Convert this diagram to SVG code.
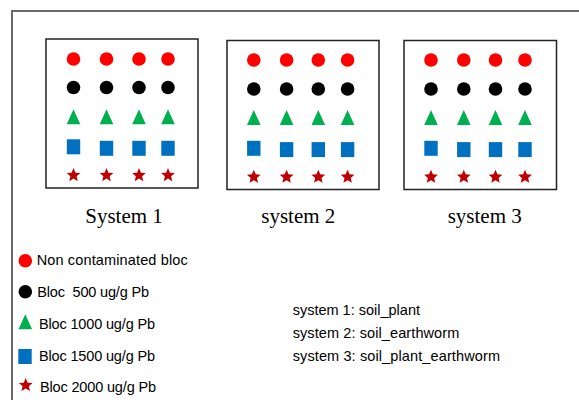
<svg xmlns="http://www.w3.org/2000/svg" xmlns:xlink="http://www.w3.org/1999/xlink" width="579" height="400" viewBox="0 0 579 400">
<style>
.frame{fill:none;stroke:#6a6a6a;stroke-width:2}
.box{fill:#ffffff;stroke:#222222;stroke-width:1.5}
.red{fill:#ff0000}
.blk{fill:#000000}
.grn{fill:#00b050}
.blu{fill:#0070c0}
.str{fill:#c00000}
.title{font-family:"Liberation Serif","Times New Roman",serif;font-size:21px;fill:#000;text-anchor:middle}
.lbl{font-family:"Liberation Sans",Arial,sans-serif;font-size:14.5px;fill:#000}
</style>
<defs>
<circle id="dot" r="6.8"/>
<polygon id="tri" points="0,-7.5 6.8,7.5 -6.8,7.5"/>
<rect id="sq" x="-6.7" y="-7.5" width="13.4" height="15"/>
<polygon id="star" points="0,-7.2 1.940,-2.670 6.848,-2.225 3.138,1.020 4.232,5.825 0,3.3 -4.232,5.825 -3.138,1.020 -6.848,-2.225 -1.940,-2.670"/>
</defs>
<rect width="579" height="400" fill="#ffffff"/>
<path class="frame" d="M12,400 V11 H579"/>

<g id="system1">
<rect class="box" x="46" y="39" width="152" height="149"/>
<g class="red"><use xlink:href="#dot" x="73.5" y="59"/><use xlink:href="#dot" x="106.5" y="59"/><use xlink:href="#dot" x="139" y="59"/><use xlink:href="#dot" x="168" y="59"/></g>
<g class="blk"><use xlink:href="#dot" x="73.5" y="87.5"/><use xlink:href="#dot" x="106.5" y="87.5"/><use xlink:href="#dot" x="139" y="87.5"/><use xlink:href="#dot" x="168" y="87.5"/></g>
<g class="grn"><use xlink:href="#tri" x="73.5" y="116.7"/><use xlink:href="#tri" x="106.5" y="116.7"/><use xlink:href="#tri" x="139" y="116.7"/><use xlink:href="#tri" x="168" y="116.7"/></g>
<g class="blu"><use xlink:href="#sq" x="73.5" y="146.8"/><use xlink:href="#sq" x="106.5" y="148.3"/><use xlink:href="#sq" x="139" y="148.3"/><use xlink:href="#sq" x="168" y="148.3"/></g>
<g class="str"><use xlink:href="#star" x="73.5" y="175.3"/><use xlink:href="#star" x="106.5" y="175.3"/><use xlink:href="#star" x="139" y="175.3"/><use xlink:href="#star" x="168" y="175.3"/></g>
<text class="title" x="124" y="223">System 1</text>
</g>

<g id="system2">
<rect class="box" x="227" y="40.5" width="152" height="149"/>
<g class="red"><use xlink:href="#dot" x="253.8" y="60"/><use xlink:href="#dot" x="286.6" y="60"/><use xlink:href="#dot" x="318.3" y="60"/><use xlink:href="#dot" x="347.6" y="60"/></g>
<g class="blk"><use xlink:href="#dot" x="253.8" y="89"/><use xlink:href="#dot" x="286.6" y="89"/><use xlink:href="#dot" x="318.3" y="89"/><use xlink:href="#dot" x="347.6" y="89"/></g>
<g class="grn"><use xlink:href="#tri" x="253.8" y="117.5"/><use xlink:href="#tri" x="286.6" y="117.5"/><use xlink:href="#tri" x="318.3" y="117.5"/><use xlink:href="#tri" x="347.6" y="117.5"/></g>
<g class="blu"><use xlink:href="#sq" x="253.8" y="148.3"/><use xlink:href="#sq" x="286.6" y="149.6"/><use xlink:href="#sq" x="318.3" y="149.6"/><use xlink:href="#sq" x="347.6" y="149.6"/></g>
<g class="str"><use xlink:href="#star" x="253.8" y="177"/><use xlink:href="#star" x="286.6" y="177"/><use xlink:href="#star" x="318.3" y="177"/><use xlink:href="#star" x="347.6" y="177"/></g>
<text class="title" x="298.3" y="223">system 2</text>
</g>

<g id="system3">
<rect class="box" x="404" y="40.5" width="152.5" height="149"/>
<g class="red"><use xlink:href="#dot" x="431" y="60"/><use xlink:href="#dot" x="463.8" y="60"/><use xlink:href="#dot" x="495.5" y="60"/><use xlink:href="#dot" x="525" y="60"/></g>
<g class="blk"><use xlink:href="#dot" x="431" y="89"/><use xlink:href="#dot" x="463.8" y="89"/><use xlink:href="#dot" x="495.5" y="89"/><use xlink:href="#dot" x="525" y="89"/></g>
<g class="grn"><use xlink:href="#tri" x="431" y="117.5"/><use xlink:href="#tri" x="463.8" y="117.5"/><use xlink:href="#tri" x="495.5" y="117.5"/><use xlink:href="#tri" x="525" y="117.5"/></g>
<g class="blu"><use xlink:href="#sq" x="431" y="148.3"/><use xlink:href="#sq" x="463.8" y="149.6"/><use xlink:href="#sq" x="495.5" y="149.6"/><use xlink:href="#sq" x="525" y="149.6"/></g>
<g class="str"><use xlink:href="#star" x="431" y="177"/><use xlink:href="#star" x="463.8" y="177"/><use xlink:href="#star" x="495.5" y="177"/><use xlink:href="#star" x="525" y="177"/></g>
<text class="title" x="484.7" y="223">system 3</text>
</g>

<g id="legend">
<use class="red" xlink:href="#dot" x="25.3" y="260.7"/>
<text class="lbl" x="36.7" y="265.3" textLength="151" lengthAdjust="spacing">Non contaminated bloc</text>
<use class="blk" xlink:href="#dot" x="25.3" y="291.7"/>
<text class="lbl" x="37.3" y="296.5" textLength="111.7" lengthAdjust="spacing" xml:space="preserve">Bloc  500 ug/g Pb</text>
<use class="grn" xlink:href="#tri" x="25.3" y="321.8"/>
<text class="lbl" x="39" y="329" textLength="116" lengthAdjust="spacing">Bloc 1000 ug/g Pb</text>
<use class="blu" xlink:href="#sq" x="25" y="356.5"/>
<text class="lbl" x="39" y="361" textLength="116" lengthAdjust="spacing">Bloc 1500 ug/g Pb</text>
<use class="str" xlink:href="#star" x="25.7" y="385.3"/>
<text class="lbl" x="40" y="391.5" textLength="116" lengthAdjust="spacing">Bloc 2000 ug/g Pb</text>
</g>

<g id="description">
<text class="lbl" x="292.7" y="314.5" textLength="127.3" lengthAdjust="spacing">system 1: soil_plant</text>
<text class="lbl" x="292.7" y="337.8" textLength="166.6" lengthAdjust="spacing">system 2: soil_earthworm</text>
<text class="lbl" x="292.7" y="361" textLength="207.3" lengthAdjust="spacing">system 3: soil_plant_earthworm</text>
</g>
</svg>
